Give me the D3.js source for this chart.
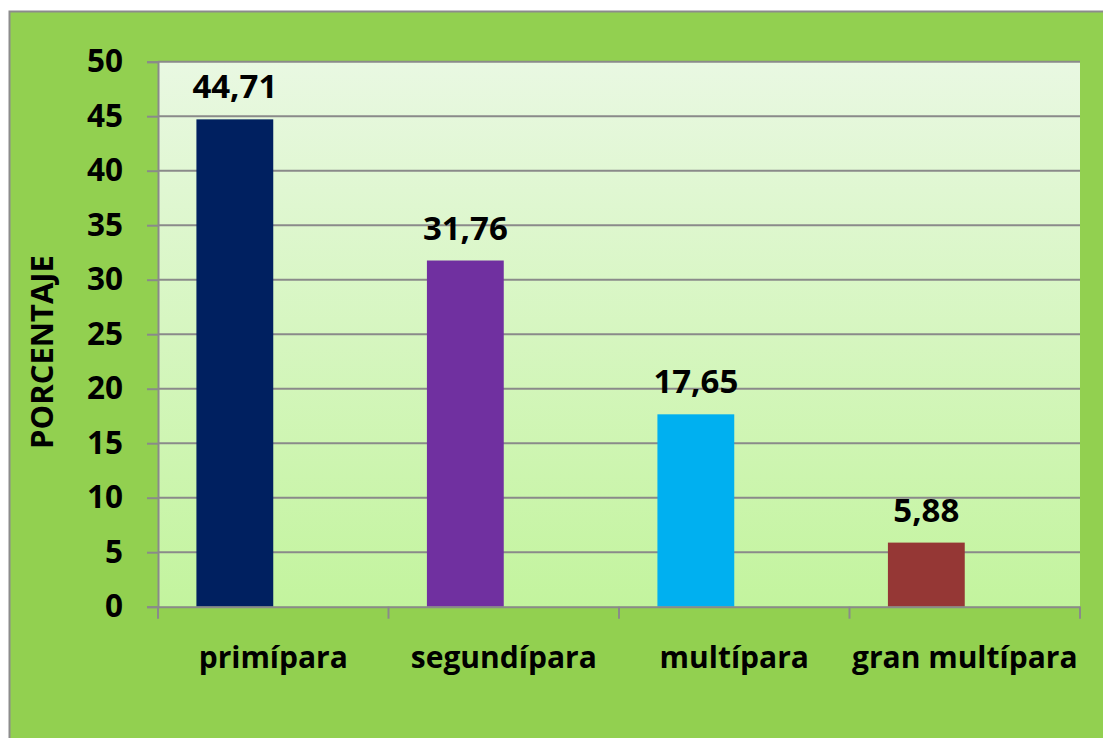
<!DOCTYPE html>
<html><head><meta charset="utf-8">
<script src="https://cdn.jsdelivr.net/npm/d3@7"></script>
<style>
html,body{margin:0;padding:0;background:#fff;}
svg text{font-family:"Open Sans",sans-serif;font-weight:bold;fill:#000;}
</style></head>
<body>
<svg id="c" width="1103" height="738"></svg>
<script>
const categories = ["primípara","segundípara","multípara","gran multípara"];
const values = [44.71, 31.76, 17.65, 5.88];
const valueLabels = ["44,71","31,76","17,65","5,88"];
const barColors = ["#002060","#7030a0","#00b0f0","#953735"];
const yTicks = [0,5,10,15,20,25,30,35,40,45,50];
const yTitle = "PORCENTAJE";

const svg = d3.select("#c");
const W = 1103, H = 738;
const m = {left:158, top:61.7, right:1080, bottom:606.7};

// outer background
svg.append("rect").attr("x",9.5).attr("y",11.5).attr("width",W).attr("height",H)
  .attr("fill","#92d050").attr("stroke","#8c8c8c").attr("stroke-width",2);

const defs = svg.append("defs");
const g = defs.append("linearGradient").attr("id","pg").attr("x1",0).attr("y1",0).attr("x2",0).attr("y2",1);
g.append("stop").attr("offset","0%").attr("stop-color","#e9f8e2");
g.append("stop").attr("offset","100%").attr("stop-color","#c3f49e");

const x = d3.scaleBand().domain(categories).range([m.left,m.right]).padding(0);
const y = d3.scaleLinear().domain([0,50]).range([m.bottom,m.top]);

svg.append("rect").attr("x",m.left).attr("y",m.top).attr("width",m.right-m.left).attr("height",m.bottom-m.top)
  .attr("fill","url(#pg)");

// gridlines
svg.append("g").selectAll("line").data(yTicks.filter(d=>d>0)).join("line")
  .attr("x1",m.left).attr("x2",m.right).attr("y1",d=>y(d)).attr("y2",d=>y(d))
  .attr("stroke","#8a8a8a").attr("stroke-width",2);

// bars
const bw = x.bandwidth()/3;
svg.append("g").selectAll("rect").data(values).join("rect")
  .attr("x",(d,i)=>x(categories[i]) + bw/2)
  .attr("y",d=>y(d)).attr("width",bw).attr("height",d=>y(0)-y(d))
  .attr("fill",(d,i)=>barColors[i]);

// value labels
svg.append("g").selectAll("text").data(values).join("text")
  .attr("x",(d,i)=>x(categories[i]) + bw)
  .attr("y",d=>y(d)-21)
  .attr("text-anchor","middle").attr("font-size",33)
  .text((d,i)=>valueLabels[i]);

// y axis
const ya = svg.append("g").attr("transform",`translate(${m.left},0)`)
  .call(d3.axisLeft(y).tickValues(yTicks).tickSize(11).tickPadding(24).tickFormat(d3.format("d")));
ya.select(".domain").attr("stroke","#8a8a8a").attr("stroke-width",2);
ya.selectAll(".tick line").attr("stroke","#8a8a8a").attr("stroke-width",2);
ya.selectAll("text").attr("font-size",31.5).attr("font-family","Open Sans").attr("font-weight","bold").attr("fill","#000");

// x axis
const xa = svg.append("g").attr("transform",`translate(0,${m.bottom})`)
  .call(d3.axisBottom(x).tickSize(0).tickPadding(40));
xa.select(".domain").attr("stroke","#8a8a8a").attr("stroke-width",2);
xa.selectAll("text").attr("font-size",30).attr("font-family","Open Sans").attr("font-weight","bold").attr("fill","#000");
// category boundary ticks
const bounds = categories.map(c=>x(c)).concat([m.right]);
svg.append("g").selectAll("line").data(bounds).join("line")
  .attr("x1",d=>d).attr("x2",d=>d).attr("y1",m.bottom).attr("y2",m.bottom+12)
  .attr("stroke","#8a8a8a").attr("stroke-width",2);

// y title
svg.append("text").attr("transform","translate(53,352) rotate(-90)")
  .attr("text-anchor","middle").attr("font-size",31).text(yTitle);
</script>
</body></html>
